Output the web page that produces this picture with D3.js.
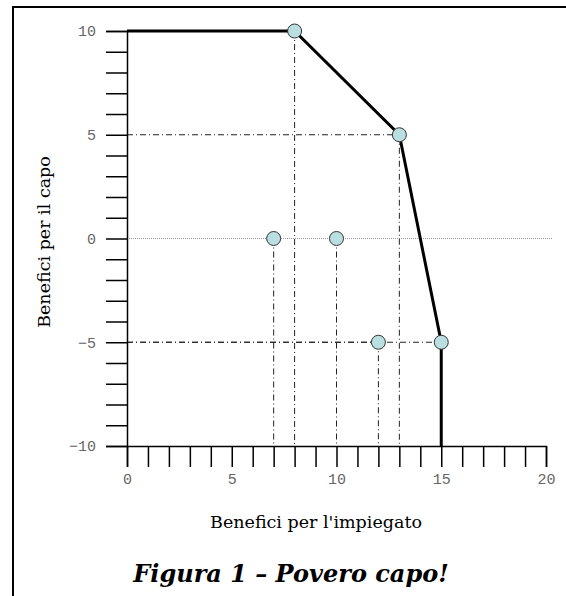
<!DOCTYPE html>
<html><head><meta charset="utf-8">
<script src="https://cdn.jsdelivr.net/npm/d3@7"></script>
<style>body{margin:0;background:#fff}</style>
</head><body>
<script>
// ---- data ----
const frontierX = [0, 8, 13, 15, 15];
const frontierY = [10, 10, 5, -5, -10];
const pointX = [8, 13, 15, 7, 10, 12];
const pointY = [10, 5, -5, 0, 0, -5];
const xTickLabels = [0, 5, 10, 15, 20];
const yTickLabels = [10, 5, 0, -5, -10];
const xTitle = "Benefici per l'impiegato";
const yTitle = "Benefici per il capo";
const caption = "Figura 1 – Povero capo!";

const W = 566, H = 596;
const svg = d3.select("body").append("svg").attr("width", W).attr("height", H);

// frame
svg.append("path").attr("d", `M13,${H} V7 H${W}`)
  .attr("fill", "none").attr("stroke", "#000").attr("stroke-width", 2);

const x = d3.scaleLinear().domain([0, 20]).range([127, 546]);
const y = d3.scaleLinear().domain([-10, 10]).range([446, 31]);

// y=0 dotted line
svg.append("line").attr("x1", x(0)).attr("x2", 553).attr("y1", y(0)).attr("y2", y(0))
  .attr("stroke", "#999").attr("stroke-width", 1).attr("stroke-dasharray", "1,1");

// guide lines (dash-dot) from points
const dashDot = "6,3,1,3";
const g = svg.append("g").attr("stroke", "#222").attr("stroke-width", 1).attr("stroke-dasharray", dashDot).attr("fill", "none");
pointX.forEach((px, i) => {
  const py = pointY[i];
  g.append("line").attr("x1", x(px)).attr("x2", x(px)).attr("y1", y(py)).attr("y2", y(-10));
  if (py !== 0 && py !== 10) {
    g.append("line").attr("x1", x(0)).attr("x2", x(px)).attr("y1", y(py)).attr("y2", y(py));
  }
});

// axes
const yAxis = d3.axisLeft(y).tickValues(d3.range(-10, 11, 1)).tickSize(21)
  .tickFormat(d => yTickLabels.includes(d) ? (d < 0 ? "\u2212" + Math.abs(d) : d) : "");
const ya = svg.append("g").attr("transform", `translate(${x(0)},0)`).call(yAxis);
ya.select(".domain").attr("stroke", "#000").attr("stroke-width", 1.5);
ya.selectAll(".tick line").attr("stroke", "#000").attr("stroke-width", 1.5);
ya.selectAll(".tick text").attr("x", -31).attr("fill", "#666")
  .style("font-family", "'Liberation Mono', monospace").style("font-size", "15px");

const xAxis = d3.axisBottom(x).tickValues(d3.range(0, 21, 1)).tickSize(21)
  .tickFormat(d => xTickLabels.includes(d) ? d : "");
const xa = svg.append("g").attr("transform", `translate(0,${y(-10)})`).call(xAxis);
xa.select(".domain").attr("stroke", "#000").attr("stroke-width", 1.5);
xa.selectAll(".tick line").attr("stroke", "#000").attr("stroke-width", 1.5);
xa.selectAll(".tick text").attr("y", 27).attr("fill", "#666")
  .style("font-family", "'Liberation Mono', monospace").style("font-size", "15px");

// frontier
const line = d3.line().x(d => x(d[0])).y(d => y(d[1]));
svg.append("path").datum(frontierX.map((v, i) => [v, frontierY[i]]))
  .attr("d", line).attr("fill", "none").attr("stroke", "#000").attr("stroke-width", 3)
  .attr("stroke-linejoin", "miter");

// points
svg.selectAll("circle.pt").data(pointX.map((v, i) => [v, pointY[i]])).enter()
  .append("circle").attr("class", "pt")
  .attr("cx", d => x(d[0])).attr("cy", d => y(d[1])).attr("r", 7)
  .attr("fill", "#b9dfe1").attr("stroke", "#333").attr("stroke-width", 1);

// titles
svg.append("text").attr("x", 316).attr("y", 528).attr("text-anchor", "middle")
  .style("font-family", "'DejaVu Serif', serif").style("font-size", "17.5px").text(xTitle);
svg.append("text").attr("transform", "translate(50,242) rotate(-90)").attr("text-anchor", "middle")
  .style("font-family", "'DejaVu Serif', serif").style("font-size", "17.5px").text(yTitle);
svg.append("text").attr("x", 291).attr("y", 582).attr("text-anchor", "middle")
  .style("font-family", "'DejaVu Serif', serif").style("font-size", "24px")
  .style("font-weight", "bold").style("font-style", "italic").text(caption);
</script>
</body></html>
